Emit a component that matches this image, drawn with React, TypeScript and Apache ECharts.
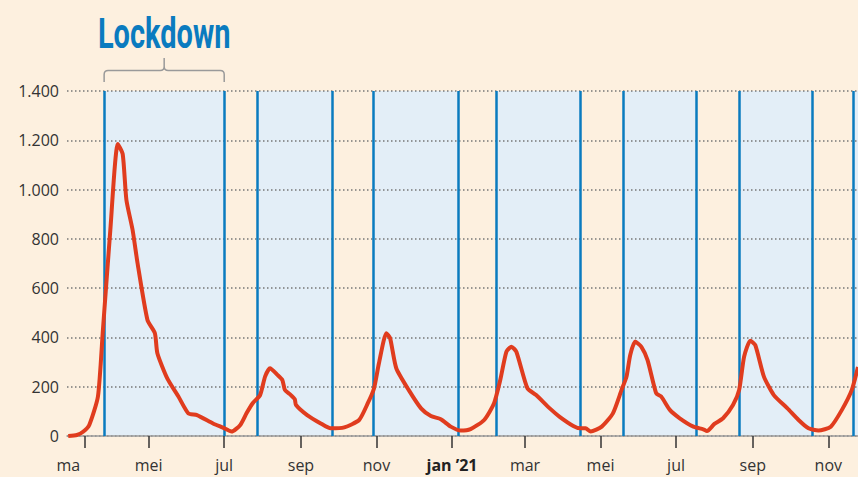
import React, { useEffect, useRef } from "react";
import * as echarts from "echarts";

// ---- data ----
const dates: string[] = [
  "2020-02-26","2020-03-04","2020-03-09","2020-03-14","2020-03-21","2020-03-25","2020-03-31",
  "2020-04-06","2020-04-10","2020-04-13","2020-04-18","2020-04-22","2020-04-30","2020-05-06",
  "2020-05-08","2020-05-16","2020-05-25","2020-06-02","2020-06-09","2020-06-22","2020-06-30",
  "2020-07-07","2020-07-14","2020-07-19","2020-07-24","2020-07-30","2020-08-03","2020-08-07",
  "2020-08-13","2020-08-17","2020-08-19","2020-08-23","2020-08-27","2020-08-28","2020-09-06",
  "2020-09-17","2020-09-25","2020-10-06","2020-10-18","2020-10-25","2020-10-30","2020-11-03",
  "2020-11-09","2020-11-12","2020-11-17","2020-11-27","2020-12-07","2020-12-15","2020-12-23",
  "2020-12-31","2021-01-08","2021-01-16","2021-01-27","2021-02-04","2021-02-09","2021-02-14",
  "2021-02-18","2021-02-22","2021-03-03","2021-03-10","2021-03-21","2021-03-29","2021-04-09",
  "2021-04-15","2021-04-19","2021-04-23","2021-05-02","2021-05-11","2021-05-18","2021-05-22",
  "2021-05-25","2021-05-29","2021-06-03","2021-06-08","2021-06-15","2021-06-19","2021-06-26",
  "2021-07-04","2021-07-15","2021-07-23","2021-07-26","2021-08-01","2021-08-08","2021-08-16",
  "2021-08-21","2021-08-25","2021-08-30","2021-09-03","2021-09-10","2021-09-18","2021-09-29",
  "2021-10-08","2021-10-16","2021-10-24","2021-11-03","2021-11-12","2021-11-20","2021-11-25",
];
const cases: number[] = [
  0, 4, 17, 45, 160, 430, 836,
  1185, 1144, 958, 836, 701, 471, 417,
  336, 234, 160, 92, 85, 51, 34,
  18, 45, 92, 133, 166, 241, 275,
  248, 227, 187, 170, 149, 126, 85,
  51, 31, 35, 65, 133, 193, 295,
  417, 397, 275, 187, 112, 81, 68,
  38, 22, 28, 65, 133, 227, 342,
  362, 342, 193, 166, 112, 78, 41,
  31, 31, 18, 38, 92, 187, 241,
  329, 383, 362, 308, 173, 160, 106,
  72, 38, 27, 20, 49, 72, 126,
  187, 322, 387, 369, 241, 166, 112,
  65, 31, 22, 38, 106, 187, 280,
];
const lockdownStarts: string[] = ["2020-03-26","2020-07-28","2020-10-29","2021-02-06","2021-05-19","2021-08-21","2021-11-21"];
const lockdownEnds: string[] = ["2020-07-01","2020-09-26","2021-01-06","2021-04-15","2021-07-17","2021-10-19","2021-11-25"];
const tickDates: string[] = ["2020-03-10","2020-05-01","2020-07-01","2020-09-01","2020-11-01","2021-01-01","2021-03-01","2021-05-01","2021-07-01","2021-09-01","2021-11-01"];
const labelDates: string[] = ["2020-02-26","2020-05-01","2020-07-01","2020-09-01","2020-11-01","2021-01-01","2021-03-01","2021-05-01","2021-07-01","2021-09-01","2021-11-01"];
const tickLabels: string[] = ["ma","mei","jul","sep","nov","jan ’21","mar","mei","jul","sep","nov"];
const axisStart = "2020-02-25";
const axisEnd = "2021-11-25";
const yMax = 1400;
const yStep = 200;
const titleText = "Lockdown";

// days since axis start (so the x axis is a plain value axis)
const t = (s: string) => {
  const [y, m, d] = s.split("-").map(Number);
  const [y0, m0, d0] = axisStart.split("-").map(Number);
  return Math.round((Date.UTC(y, m - 1, d) - Date.UTC(y0, m0 - 1, d0)) / 86400000);
};

const FONT = "'Open Sans', 'Noto Sans', sans-serif";
const BLUE = "#0a7bbf";
const RED = "#e03c1e";

export default function App() {
  const ref = useRef<HTMLDivElement>(null);
  useEffect(() => {
    if (!ref.current) return;
    const chart = echarts.init(ref.current, null, { renderer: "svg" });
    const labelMap: Record<number, string> = {};
    labelDates.forEach((d, i) => (labelMap[t(d)] = tickLabels[i]));

    const option: any = {
      animation: false,
      backgroundColor: "#fdf0df",
      grid: { left: 67, right: 0, top: 91, bottom: 41 },
      xAxis: {
        type: "value",
        min: t(axisStart),
        max: t(axisEnd),
        z: 1,
        axisLine: { show: true, onZero: false, lineStyle: { color: "#9a9a9a", width: 1.5 } },
        axisTick: {
          show: true,
          customValues: tickDates.map(t),
          length: 12,
          lineStyle: { color: "#333", width: 1.5 },
        },
        axisLabel: {
          customValues: labelDates.map(t),
          showMinLabel: true,
          showMaxLabel: true,
          margin: 21,
          fontSize: 16,
          color: "#333",
          fontFamily: FONT,
          formatter: (v: number) => {
            const s = labelMap[v] ?? "";
            return s.includes("’") ? `{b|${s}}` : s;
          },
          rich: { b: { fontSize: 16, fontWeight: "bold", color: "#222", fontFamily: FONT } },
        },
        splitLine: { show: false },
      },
      yAxis: {
        type: "value",
        min: 0,
        max: yMax,
        interval: yStep,
        z: 1,
        axisLine: { show: false },
        axisTick: { show: false },
        axisLabel: {
          margin: 8,
          fontSize: 16,
          color: "#333",
          fontFamily: FONT,
          formatter: (v: number) =>
            v >= 1000 ? `${Math.floor(v / 1000)}.${String(v % 1000).padStart(3, "0")}` : String(v),
        },
        splitLine: { lineStyle: { color: "#777", width: 1.5, type: [1.5, 2.5] } },
      },
      series: [
        {
          type: "line",
          data: dates.map((d, i) => [t(d), cases[i]]),
          symbol: "none",
          showSymbol: false,
          smooth: 0.2,
          z: 3,
          silent: true,
          lineStyle: { color: RED, width: 4 },
          markArea: {
            silent: true,
            z: 0,
            itemStyle: { color: "#e3eef7", borderWidth: 0 },
            label: { show: false },
            data: lockdownStarts.map((s, i) => [{ xAxis: t(s) }, { xAxis: t(lockdownEnds[i]) }]),
          },
          markLine: {
            silent: true,
            z: 2,
            symbol: ["none", "none"],
            label: { show: false },
            lineStyle: { color: BLUE, width: 2.5, type: "solid" },
            data: [
              ...lockdownStarts.map((s) => ({ xAxis: t(s) })),
              ...lockdownEnds.filter((e) => e !== axisEnd).map((e) => ({ xAxis: t(e) })),
            ],
          },
        },
      ],
    };
    chart.setOption(option);

    // Bracket and title above the first lockdown band
    const p1 = chart.convertToPixel({ gridIndex: 0 }, [t(lockdownStarts[0]), yMax]) as number[];
    const p2 = chart.convertToPixel({ gridIndex: 0 }, [t(lockdownEnds[0]), yMax]) as number[];
    const x1 = p1[0], x2 = p2[0], top = p1[1];
    const cx = (x1 + x2) / 2;
    const yb = top - 9, yh = top - 20.5, yt = top - 33;
    const r = 4;
    const d =
      `M${x1},${yb} L${x1},${yh + r} Q${x1},${yh} ${x1 + r},${yh} L${cx - r},${yh} Q${cx},${yh} ${cx},${yh - r} L${cx},${yt} ` +
      `M${cx},${yh - r} Q${cx},${yh} ${cx + r},${yh} L${x2 - r},${yh} Q${x2},${yh} ${x2},${yh + r} L${x2},${yb}`;
    echarts.graphic.registerShape("brace", (echarts.graphic as any).extendPath(d, {}));
    chart.setOption({
      graphic: [
        {
          type: "brace",
          x: 0,
          y: 0,
          silent: true,
          style: { stroke: "#9a9a9a", fill: "none", lineWidth: 1.5 },
        },
        {
          type: "text",
          x: cx,
          y: top - 57,
          scaleX: 0.69,
          silent: true,
          style: {
            text: titleText,
            fill: BLUE,
            font: "bold 42px Roboto, sans-serif",
            align: "center",
            verticalAlign: "middle",
          },
        },
      ],
    });

    return () => chart.dispose();
  }, []);
  return <div ref={ref} style={{ position: "fixed", left: 0, top: 0, width: 858, height: 477 }} />;
}
